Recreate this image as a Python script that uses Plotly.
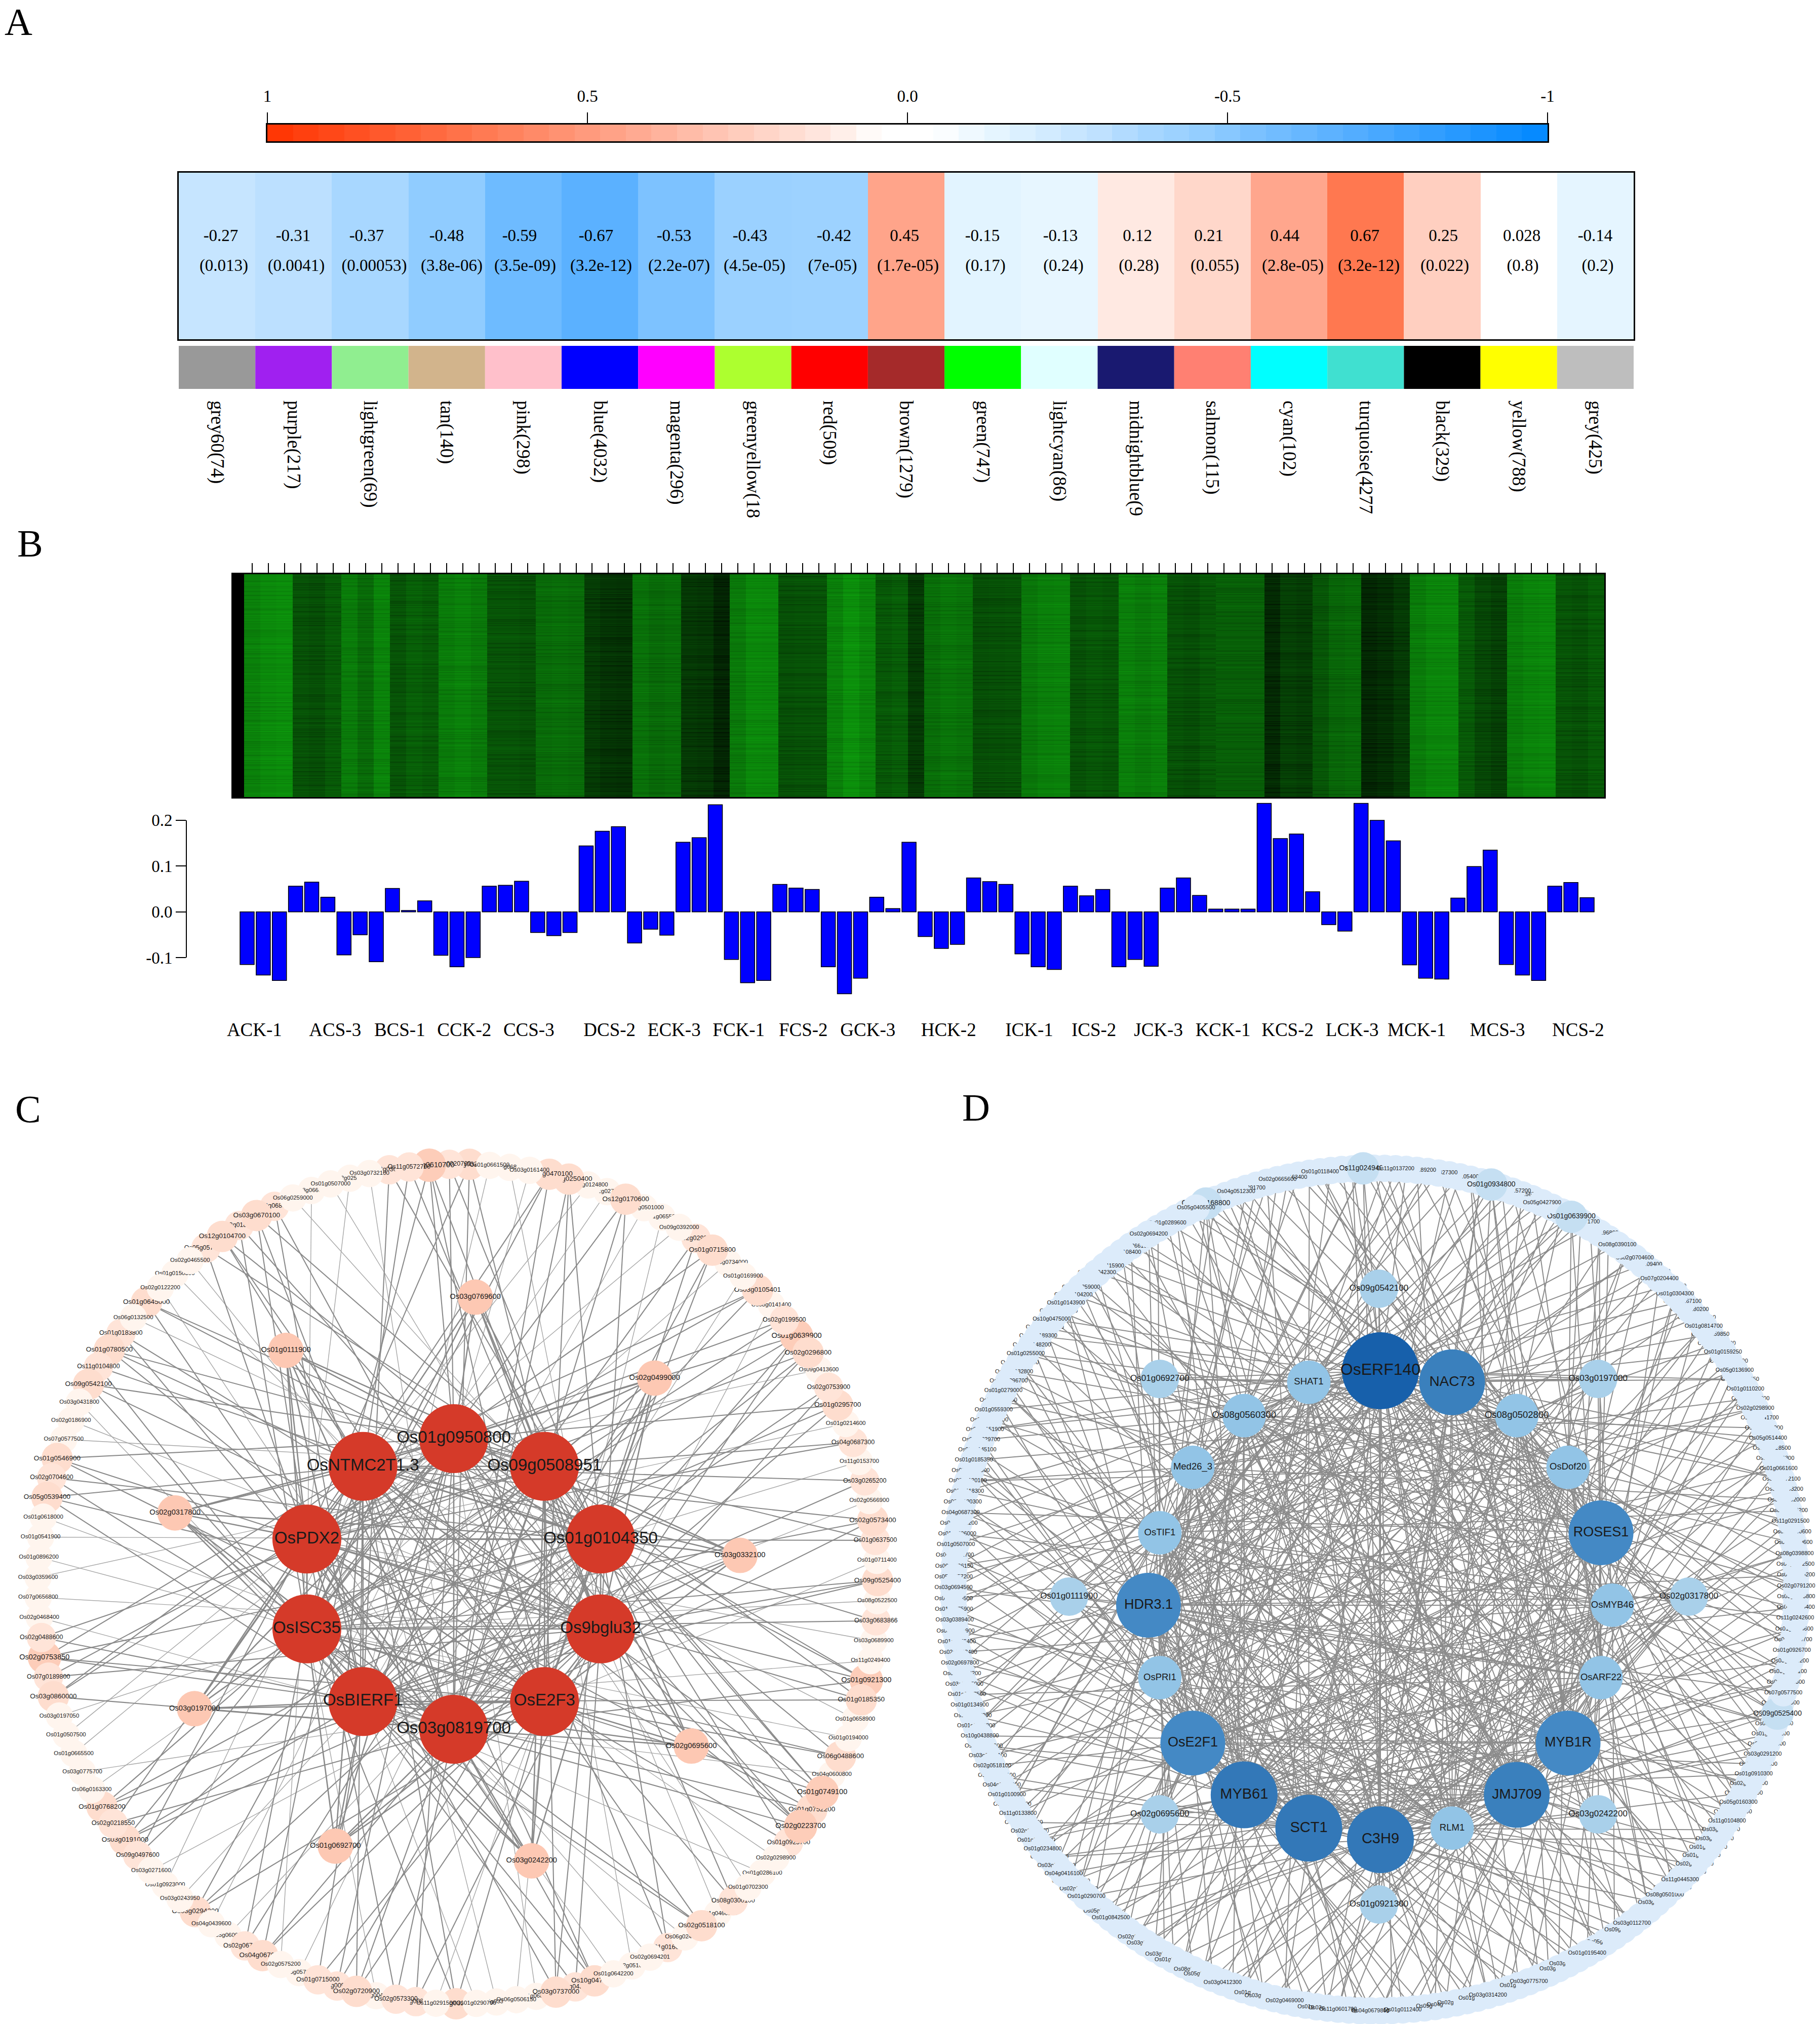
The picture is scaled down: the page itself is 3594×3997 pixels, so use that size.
import math
import plotly.graph_objects as go

W, H = 3594, 3997
SERIF = "Liberation Serif"
SANS = "Liberation Sans"

# ---------- Panel A data ----------
module_names = ["grey60(74)", "purple(217)", "lightgreen(69)", "tan(140)", "pink(298)", "blue(4032)", "magenta(296)",
                "greenyellow(18", "red(509)", "brown(1279)", "green(747)", "lightcyan(86)", "midnightblue(9", "salmon(115)",
                "cyan(102)", "turquoise(4277", "black(329)", "yellow(788)", "grey(425)"]
module_colors = ["#999999", "#A020F0", "#90EE90", "#D2B48C", "#FFC0CB", "#0000FF", "#FF00FF", "#ADFF2F", "#FF0000",
                 "#A52A2A", "#00FF00", "#E0FFFF", "#191970", "#FF8072", "#00FFFF", "#40E0D0", "#000000", "#FFFF00", "#BEBEBE"]
module_r = [-0.27, -0.31, -0.37, -0.48, -0.59, -0.67, -0.53, -0.43, -0.42, 0.45, -0.15, -0.13, 0.12, 0.21, 0.44, 0.67, 0.25, 0.028, -0.14]
module_r_text = ["-0.27", "-0.31", "-0.37", "-0.48", "-0.59", "-0.67", "-0.53", "-0.43", "-0.42", "0.45", "-0.15", "-0.13",
                 "0.12", "0.21", "0.44", "0.67", "0.25", "0.028", "-0.14"]
module_p_text = ["(0.013)", "(0.0041)", "(0.00053)", "(3.8e-06)", "(3.5e-09)", "(3.2e-12)", "(2.2e-07)", "(4.5e-05)", "(7e-05)",
                 "(1.7e-05)", "(0.17)", "(0.24)", "(0.28)", "(0.055)", "(2.8e-05)", "(3.2e-12)", "(0.022)", "(0.8)", "(0.2)"]
r_label_px = [436, 579, 724, 882, 1026, 1177, 1331, 1481, 1647, 1786, 1940, 2094, 2246, 2387, 2537, 2695, 2850, 3005, 3150]
p_label_px = [442, 585, 739, 892, 1037, 1187, 1341, 1490, 1644, 1793, 1946, 2100, 2249, 2399, 2553, 2703, 2853, 3007, 3155]
scale_ticks = [1, 0.5, 0, -0.5, -1]
scale_labels = ["1", "0.5", "0.0", "-0.5", "-1"]
scale_levels = 50
diverging_stops = [(-1, "#0088FF"), (-0.67, "#5BB1FF"), (-0.53, "#7DC2FF"), (-0.48, "#90CCFF"), (-0.37, "#A8D7FF"), (-0.3, "#BFE1FF"),
                   (-0.15, "#E2F4FF"), (-0.04, "#FFFFFF"), (0.04, "#FFFFFF"), (0.12, "#FFE9E2"), (0.25, "#FFCFC0"), (0.45, "#FFA48A"),
                   (0.67, "#FF7850"), (1, "#FF3300")]
diverging = [[(v + 1) / 2, c] for v, c in diverging_stops]

# ---------- Panel B data ----------
# Approximate green level of each sample column.
sample_green = [128, 137, 140, 80, 76, 88, 122, 105, 130, 82, 94, 88, 122, 128, 120, 82, 82, 78, 105, 108, 105,
                58, 50, 48, 112, 104, 108, 55, 52, 35, 120, 135, 134, 78, 80, 82, 127, 143, 131, 86, 92, 56,
                108, 116, 112, 76, 78, 80, 118, 126, 128, 80, 86, 82, 126, 120, 126, 80, 76, 86, 94, 94, 94,
                40, 62, 58, 84, 100, 104, 38, 44, 56, 122, 132, 133, 88, 70, 62, 122, 130, 134, 82, 78, 88]
# Hand-typed stripe pattern standing in for the unreadable gene-level rows.
row_stripes = ("4627351846274530619254738162947350264817395026481739254603718264"
               "5937182640395827164039582716405938271640592837164059283716405938"
               "27164059283746152038495716203849")
eigengene = [-0.115, -0.138, -0.150, 0.056, 0.065, 0.032, -0.094, -0.050, -0.109, 0.051, 0.003, 0.024,
             -0.095, -0.120, -0.100, 0.056, 0.058, 0.067, -0.045, -0.052, -0.045, 0.144, 0.176, 0.186,
             -0.068, -0.038, -0.051, 0.152, 0.162, 0.234, -0.104, -0.155, -0.150, 0.060, 0.052, 0.049,
             -0.120, -0.179, -0.145, 0.032, 0.007, 0.152, -0.054, -0.080, -0.071, 0.074, 0.066, 0.060,
             -0.092, -0.120, -0.126, 0.056, 0.035, 0.049, -0.120, -0.104, -0.119, 0.052, 0.074, 0.036,
             0.006, 0.006, 0.006, 0.237, 0.160, 0.170, 0.044, -0.028, -0.042, 0.237, 0.200, 0.155,
             -0.116, -0.145, -0.147, 0.030, 0.099, 0.135, -0.115, -0.138, -0.150, 0.056, 0.064, 0.031]
sample_label_index = [0, 5, 9, 13, 17, 22, 26, 30, 34, 38, 43, 48, 52, 56, 60, 64, 68, 72, 77, 82]
sample_labels = ["ACK-1", "ACS-3", "BCS-1", "CCK-2", "CCS-3", "DCS-2", "ECK-3", "FCK-1", "FCS-2", "GCK-3", "HCK-2",
                 "ICK-1", "ICS-2", "JCK-3", "KCK-1", "KCS-2", "LCK-3", "MCK-1", "MCS-3", "NCS-2"]

# ---------- Panel C data ----------  ("~" = label mostly hidden by neighbouring nodes)
C_ring = """Os01g0610700 Os11g0572700 Os03g0305200~ Os03g0732100 Os02g0250600~ Os01g0507000 Os03g0660100~ Os06g0259000
Os02g0680500~ Os03g0670100 Os03g0180600~ Os12g0104700 Os05g0570400~ Os02g0465500 Os01g0150300~ Os02g0122200 Os01g0645000~
Os06g0132500 Os01g0183800~ Os01g0780500~ Os11g0104800 Os09g0542100 Os03g0431800 Os02g0186900 Os07g0577500 Os01g0546900
Os02g0704600 Os05g0539400 Os01g0618000 Os01g0541900 Os01g0896200 Os03g0359600 Os07g0656800 Os02g0468400 Os02g0488600
Os02g0753850~ Os07g0189800 Os03g0860000 Os03g0197050 Os01g0507500 Os01g0665500 Os03g0775700 Os06g0163300 Os01g0768200~
Os02g0218550 Os03g0191000~ Os09g0497600~ Os03g0271600 Os01g0923000~ Os03g0243950 Os03g0294200~ Os04g0439600 Os05g0600800~
Os02g0670000~ Os04g0670900~ Os02g0575200 Os03g0570100~ Os01g0715000 Os04g0090400~ Os02g0720900 Os06g0040500~ Os02g0573300
Os03g0080200~ Os11g0291500 Os01g0329000~ Os01g0290700 Os05g0330100~ Os06g0506150 Os01g0680200~ Os03g0737000 Os07g0430900~
Os10g0470900~ Os01g0642200 Os02g0510400~ Os02g0694201 Os01g0160700~ Os06g0240300~ Os02g0518100 Os01g0460800~ Os08g0300100~
Os01g0702300 Os01g0286100~ Os02g0298900 Os01g0925700~ Os02g0223700 Os01g0752200~ Os01g0749100 Os04g0600800~ Os06g0488600
Os01g0194000 Os01g0658900 Os01g0185350 Os01g0921300~ Os11g0249400 Os03g0689900 Os03g0683866 Os08g0522500 Os09g0525400
Os01g0711400 Os01g0637500 Os02g0573400 Os02g0566900 Os03g0265200 Os11g0153700 Os04g0687300 Os01g0214600 Os01g0295700
Os02g0753900 Os09g0413600~ Os02g0296800 Os01g0639900~ Os02g0199500 Os08g0141400~ Os03g0105401~ Os01g0169900 Os03g0734000~
Os01g0715800 Os02g0290000~ Os09g0392000 Os01g0655000~ Os08g0501000~ Os12g0170600 Os02g0270000~ Os03g0124800~ Os03g0250400~
Os02g0470100~ Os03g0161400 Os05g0680000~ Os01g0661500 Os02g0329000~ Os03g0020700~""".split()
# Hub links of each ring node: digits index C_hubs (approximate, edges cannot be traced one by one)
C_ring_links = """1470 39 26 5 8 3 7 2 46 158 37 294 16 4 9 5 280 2 35 194 62 307 6 3 1 804 25 693 4 2 7 1 3 5 16 6249 38 950 2 8 0 4 1
273 59 630 18 3 9 6 240 0 2 17 953 8 1 46 02 913 7 85 30 2 749 6 9 4 0 128 63 597 8 1 5 20 7 746 3 91 0 6 8 42 9305 618 7192 5
704 7 9 861 8025 6 8 97 7 763 4 80 759 6 96 7 18 8 570 46 9 685 5793 07 3 968 5 7 258 64 8 4 6 731 7 9 425 857 0 3 6 581 02""".split()
C_hubs = ["Os01g0950800", "Os09g0508951", "Os01g0104350", "Os9bglu32", "OsE2F3", "Os03g0819700", "OsBIERF1", "OsISC35", "OsPDX2", "OsNTMC2T1.3"]
C_hub_links = ["123456789", "23456789", "3456789", "456789", "56789", "6789", "789", "89", "9"]
C_mid = ["Os03g0332100", "Os02g0499000", "Os03g0769600", "Os01g0111900", "Os02g0317800", "Os03g0197000", "Os01g0692700", "Os03g0242200", "Os02g0695600"]
C_mid_links = ["0123469", "0123458", "012379", "0157689", "0279856", "5678490", "0569734", "1345678", "234561"]

# ---------- Panel D data ----------
D_ring = """Os11g0249400 Os11g0286100~ Os01g0188800~ ~ Os01g0118400 Os01g0172300~ ~ Os07g0163400~ Os02g0665600 Os08g0330100~ ~ Os03g0291700~
Os04g0512300 Os02g0170700~ ~ Os01g0168800 Os05g0405500 Os02g0105900~ ~ Os01g0289600 Os03g0138300~ Os02g0694200 ~ Os01g0266100~
Os03g0108400~ ~ Os02g0415900~ Os01g0042300~ ~ Os05g0259000~ Os03g0104200~ Os01g0143900 Os09g0324100~ Os10g0475000 Os01g0260500~
Os03g0189300~ Os02g0148200~ Os01g0255000 Os01g0320300~ Os05g0132800~ Os03g0296700~ Os01g0279000 Os04g0431100~ Os01g0559300
Os02g0148000~ Os06g0151900~ Os03g0229700~ Os02g0145100~ Os01g0185350 Os02g0147500~ Os08g0120100~ Os01g0118300~ Os03g0180300~
Os04g0687300 Os02g0116200~ Os01g0306000~ Os01g0507000 Os05g0121700~ Os06g0506150 Os05g0257200 Os03g0694500 Os02g0149500~
Os01g0775900~ Os03g0389400 Os02g0551900~ Os01g0776400~ Os02g0113400~ Os02g0697800 Os01g0896200~ Os03g0125000~ Os01g0287500~
Os01g0134900 Os12g0117200~ Os01g0180800~ Os10g0438800 Os01g0259600~ Os03g0140100~ Os02g0518100 Os03g0141100~ Os04g0132900~
Os01g0100900 Os05g0123700~ Os11g0133800 Os03g0197600~ Os02g0164500~ Os01g0156700~ Os01g0234800 Os06g0181600~ Os03g0178400~
Os04g0416100 Os01g0359900~ Os02g0147300~ Os01g0290700 Os03g0353200~ Os05g0154600~ Os01g0842500 Os03g0247900~ ~ Os02g0180700~
Os03g0148500~ ~ Os03g0195300~ Os01g0506200~ ~ Os08g0130900~ Os05g0171200~ ~ Os03g0412300 Os02g0249200~ ~ Os01g0247500~
Os03g0186400~ ~ Os02g0469000 Os05g0329800~ ~ Os01g0841300~ Os03g0138100~ Os11g0601700 Os02g0260700~ Os03g0300500~ Os04g0679800
Os01g0154100~ Os11g0120300~ Os01g0112400 Os02g0448000~ ~ Os09g0130900~ Os04g0172100~ Os02g0468100~ ~ Os01g0161400~ Os03g0314200
Os02g0381900~ ~ Os01g0179300~ Os03g0775700 Os05g0556800~ ~ Os03g0197050~ Os03g0144300~ ~ Os01g0195400 Os02g0233900~ Os05g0678300~ ~
Os09g0118900~ Os03g0112700 Os01g0702700~ ~ Os03g0116400~ Os08g0501000 Os02g0137800~ Os11g0445300 Os01g0110300~ Os02g0234700~
Os01g0541900~ Os01g0749100~ Os03g0163900~ Os03g0185000~ Os11g0104800 Os02g0147100~ Os05g0160300 Os01g0129800~ Os02g0155500~
Os01g0910300 Os03g0127300~ Os03g0291200 Os04g0665500~ Os01g0138200~ Os05g0146700~ Os09g0525400 Os02g0180900~ Os07g0577500
Os06g0463300~ Os03g0117100~ Os03g0113200~ Os01g0926700 Os05g0154700~ Os01g0104600~ Os11g0242600 Os04g0189400~ Os03g0143800~
Os02g0791200 Os01g0205200~ Os04g0172500~ Os08g0398800 Os06g0199600~ Os02g0130600~ Os11g0291500 Os02g0185200~ Os01g0192000~
Os01g0143200~ Os05g0172100~ Os01g0661600 Os03g0146300~ Os05g0128500~ Os05g0514400 Os03g0154900~ Os02g0141700~ Os02g0298900
Os09g0170400~ Os01g0110200 Os04g0133250~ Os05g0136900 Os02g0147200~ Os01g0159250 Os03g0129100~ Os01g0159850~ Os01g0814700
Os03g0165100~ Os03g0180200~ Os05g0167100~ Os01g0304300 Os06g0183200~ Os07g0204400 Os02g0176100~ Os03g0209400~ Os02g0704600
Os01g0172500~ Os08g0390100 Os04g0152700~ Os02g0296800~ ~ Os03g0171700~ Os01g0639900 Os03g0181800~ ~ Os05g0427900 ~ Os03g0156700~
Os02g0157200~ ~ Os01g0934800 Os03g0142900~ ~ Os05g0105400~ ~ Os01g0827300~ ~ Os02g0189200~ ~ Os11g0137200 Os10g0520100~ ~""".split()
# Links of ring nodes to inner nodes: letters index D_inner (approximate)
D_ring_links = """ke pq f bn st ag ck hr dm jo ei lt fq bg sk am pe rd hn oc jt il qb kf ms ge ar dn ph to ci jl bq fs gk ea mr hd np
ct io jq bl fk sa eg mh rn dp otk ci jf ql bs gn ka em rp hc do ti jb qg lf sn ke am rh pd oc tj ib lq fg sk nr ea mh dp
co tg ji lb qf ks an em rp dh oc jt il bq fk sn ga mr hp de to ci jb lq gf ks en am rd hp co tj il qb fg sk na mr eh dp
oc ti jl bq kf gs an mr pe dh to jc il qg fb ks ne ma rh pd co jt li qb gf sk an me hr dp tc oj il fb qg ks ne am rd ph
ot cj il bf gq sk na em hr pd co tj il bq fk ns ga rm ep hd to cj li qf gb ks ne am hr dp ct oj li bq fg sk an er md
hp to jc il qb gf ks an em rd ph oc jt li fq bs kg na me hr""".split()
D_ring_special = {"Os11g0249400": "afhkp", "Os01g0168800": "bhlnr", "Os01g0934800": "dfjqs", "Os01g0639900": "cgkmt", "Os09g0525400": "aehnr"}
D_inner = ["OsMYB46", "ROSES1", "OsDof20", "Os08g0502800", "NAC73", "OsERF140", "SHAT1", "Os08g0560300", "Med26_3", "OsTIF1",
           "HDR3.1", "OsPRI1", "OsE2F1", "MYB61", "SCT1", "C3H9", "RLM1", "JMJ709", "MYB1R", "OsARF22"]
D_inner_degree = [14, 30, 14, 14, 32, 40, 14, 14, 14, 14, 30, 14, 30, 34, 34, 34, 14, 32, 30, 14]
D_inner_links = ["cfhjkmnopr", "dfgikmnpqs", "efhlnoqt", "fgijloprs", "fgiklmpqs", "ghijklmnopqrst", "ikmoqrs", "jkmnpr", "klnqst",
                 "lmnoprs", "mnoqrst", "nopq", "nopqrs", "oqrt", "pqrst", "rst", "rs", "st", "t"]
D_mid = ["Os02g0317800", "Os03g0197000", "Os09g0542100", "Os01g0692700", "Os01g0111900", "Os02g0695600", "Os01g0921300", "Os03g0242200"]
D_mid_links = ["bkmnprst", "efgkmnqt", "fehgpkbm", "gfhjbrne", "ikmnjqtd", "mnorfdhb", "pofnrgeq", "rsqbfhkj"]

# ---------- Layout constants ----------
letters = [("A", 36, 43), ("B", 59, 1073), ("C", 55, 2190), ("D", 1927, 2187)]
node_fill = {1: (27, "#FFF5EE", 11.5), 2: (29, "#FFE4D8", 12.5), 3: (31, "#FEDDCE", 13.5), 4: (33, "#FDCDB9", 14.5)}
inner_fill = {14: (43, "#92C4E6", 18.5), 30: (64, "#4489C5", 27), 32: (65, "#3A80BD", 28), 34: (66, "#3378B8", 29), 40: (76, "#1760AB", 32)}


def xdom(a, b):
    return [a / W, b / W]


def ydom(top, bottom):
    return [1 - bottom / H, 1 - top / H]


fig = go.Figure()
layout = dict(template="none", width=W, height=H, autosize=False, margin=dict(l=0, r=0, t=0, b=0, pad=0, autoexpand=False),
              paper_bgcolor="white", plot_bgcolor="white", showlegend=False, hovermode=False,
              font=dict(family=SERIF, color="black"))

# ---------- A: colour scale ----------
step = 2 / scale_levels
scale_x = [1 - step * (i + 0.5) for i in range(scale_levels)]
fig.add_trace(go.Heatmap(x=scale_x, y=[0], z=[scale_x], zmin=-1, zmax=1, colorscale=diverging, showscale=False,
                         xaxis="x", yaxis="y", hoverinfo="skip"))
layout["xaxis"] = dict(domain=xdom(528, 3056), range=[1, -1], side="top", tickmode="array", tickvals=scale_ticks, ticktext=scale_labels,
                       ticks="outside", ticklen=21, tickwidth=2, tickcolor="black", showline=True, mirror=True, linewidth=3,
                       linecolor="black", tickfont=dict(family=SERIF, size=33), showgrid=False, zeroline=False, anchor="y",
                       ticklabelstandoff=8, automargin=False)
layout["yaxis"] = dict(domain=ydom(246, 279), visible=True, showticklabels=False, ticks="", showline=True, mirror=True, linewidth=3,
                       linecolor="black", showgrid=False, zeroline=False, anchor="x", range=[-0.5, 0.5], automargin=False)

# ---------- A: correlation strip ----------
fig.add_trace(go.Heatmap(x=list(range(19)), y=[0], z=[module_r], zmin=-1, zmax=1, colorscale=diverging, showscale=False,
                         xaxis="x2", yaxis="y2", hoverinfo="skip"))
colw = (3226 - 353) / 19
fig.add_trace(go.Scatter(x=[(p - 353) / colw - 0.5 for p in r_label_px], y=[0.115] * 19, text=module_r_text, mode="text",
                         textfont=dict(family=SERIF, size=33), xaxis="x2", yaxis="y2", hoverinfo="skip"))
fig.add_trace(go.Scatter(x=[(p - 353) / colw - 0.5 for p in p_label_px], y=[-0.065] * 19, text=module_p_text, mode="text",
                         textfont=dict(family=SERIF, size=33), xaxis="x2", yaxis="y2", hoverinfo="skip"))
layout["xaxis2"] = dict(domain=xdom(353, 3226), range=[-0.5, 18.5], showticklabels=False, ticks="", showline=True, mirror=True,
                        linewidth=2.5, linecolor="black", showgrid=False, zeroline=False, anchor="y2", automargin=False)
layout["yaxis2"] = dict(domain=ydom(341, 670), range=[-0.5, 0.5], showticklabels=False, ticks="", showline=True, mirror=True,
                        linewidth=2.5, linecolor="black", showgrid=False, zeroline=False, anchor="x2", automargin=False)

# ---------- A: module swatches ----------
fig.add_trace(go.Bar(x=list(range(19)), y=[1] * 19, width=1, marker=dict(color=module_colors, line=dict(width=0)),
                     xaxis="x3", yaxis="y3", hoverinfo="skip"))
layout["xaxis3"] = dict(domain=xdom(353, 3226), range=[-0.5, 18.5], tickmode="array", tickvals=list(range(19)), ticktext=module_names,
                        tickangle=90, ticks="", ticklabelstandoff=22, tickfont=dict(family=SERIF, size=37), showline=False,
                        showgrid=False, zeroline=False, anchor="y3", automargin=False)
layout["yaxis3"] = dict(domain=ydom(683, 768), range=[0, 1], visible=False, anchor="x3", automargin=False)

# ---------- B: expression heatmap ----------
side = 22 / ((3168 - 482) / 84)
edges = [-0.5 - side] + [i - 0.5 for i in range(85)]
rows = []
n_rows = 2 * len(row_stripes)
for r in range(n_rows):
    row = [0]
    for c, g in enumerate(sample_green):
        d = int(row_stripes[(r * 7 + (c // 3) * 11) % len(row_stripes)])
        row.append(g + (d - 4.5) * 2.4)
    rows.append(row)
fig.add_trace(go.Heatmap(x=edges, y=list(range(n_rows)), z=rows, zmin=0, zmax=255,
                         colorscale=[[0, "#000000"], [1, "#14FF14"]], showscale=False, xaxis="x4", yaxis="y4", hoverinfo="skip"))
layout["xaxis4"] = dict(domain=xdom(460, 3168), range=[-0.5 - side, 83.5], side="top", tickmode="array", tickvals=list(range(84)),
                        ticktext=[""] * 84, ticks="outside", ticklen=19, tickwidth=1.5, tickcolor="black", showline=True, mirror=True,
                        linewidth=2.5, linecolor="black", showgrid=False, zeroline=False, anchor="y4", automargin=False)
layout["yaxis4"] = dict(domain=ydom(1134, 1574), range=[-0.5, n_rows - 0.5], showticklabels=False, ticks="", showline=True, mirror=True,
                        linewidth=2.5, linecolor="black", showgrid=False, zeroline=False, anchor="x4", automargin=False)

# ---------- B: eigengene bars ----------
pitch = (3134 - 488) / 83
unit = 904  # pixels per 1.0 of eigengene value
y_top, y_zero = 1579, 1800.7
y_bottom = 1975
fig.add_trace(go.Bar(x=list(range(84)), y=eigengene, width=28 / pitch,
                     marker=dict(color="#0000FF", line=dict(color="black", width=1.5)), xaxis="x5", yaxis="y5", hoverinfo="skip"))
layout["xaxis5"] = dict(domain=xdom(368, 3200), range=[(368 - 488) / pitch, (3200 - 488) / pitch], tickmode="array",
                        tickvals=[i + 0.45 for i in sample_label_index], ticktext=sample_labels, ticks="", showline=False, showgrid=False,
                        zeroline=False, anchor="free", position=1 - 2008 / H, tickfont=dict(family=SERIF, size=37), automargin=False)
layout["yaxis5"] = dict(domain=ydom(y_top, y_bottom), range=[(y_zero - y_bottom) / unit, (y_zero - y_top) / unit], tickmode="array",
                        tickvals=[-0.1, 0, 0.1, 0.2], ticktext=["-0.1", "0.0", "0.1", "0.2"], ticks="outside", ticklen=20, tickwidth=2,
                        tickcolor="black", showline=False, showgrid=False, zeroline=False, anchor="x5",
                        tickfont=dict(family=SERIF, size=33), automargin=False)
layout["shapes"] = [dict(type="line", xref="x5 domain", yref="y5", x0=0, x1=0, y0=-0.1, y1=0.2, line=dict(color="black", width=2))]


# ---------- Networks ----------
def polar(cx, cy, rx, ry, deg):
    a = math.radians(deg)
    return cx + rx * math.cos(a), cy + ry * math.sin(a)


def edge_trace(segs, color, width, xa, ya):
    xs, ys = [], []
    for (x0, y0), (x1, y1) in segs:
        xs += [x0, x1, None]
        ys += [y0, y1, None]
    return go.Scatter(x=xs, y=ys, mode="lines", line=dict(color=color, width=width), xaxis=xa, yaxis=ya, hoverinfo="skip")


def node_trace(x, y, r, color, label, size, xa, ya):
    return go.Scatter(x=[x], y=[y], text=[label], mode="markers+text", textposition="middle center",
                      marker=dict(size=2 * r, color=color, line=dict(width=0)), textfont=dict(family=SANS, size=size, color="#1a1a1a"),
                      xaxis=xa, yaxis=ya, hoverinfo="skip")


def clean(name):
    return name.rstrip("~")


# ----- C -----
N = len(C_ring)
c_ring_pos = [polar(8, 0, 829, 829, 93.9 + i * 360 / N) for i in range(N)]
c_hub_pos = [polar(0, 0, 305, 287, 90 - 36 * i) for i in range(10)]
c_mid_pos = [polar(0, 0, 568, 568, 5.7 + 40 * i) for i in range(9)]
thin, thick, hubseg = [], [], []
for i, tok in enumerate(C_ring_links[:N]):
    (thin if len(tok) == 1 else thick).extend((c_ring_pos[i], c_hub_pos[int(t)]) for t in tok)
for i, tok in enumerate(C_mid_links):
    hubseg.extend((c_mid_pos[i], c_hub_pos[int(t)]) for t in tok)
for i, tok in enumerate(C_hub_links):
    hubseg.extend((c_hub_pos[i], c_hub_pos[int(t)]) for t in tok)
fig.add_trace(edge_trace(thin, "#a6a6a6", 1.4, "x6", "y6"))
fig.add_trace(edge_trace(thick, "#8a8a8a", 2.1, "x6", "y6"))
fig.add_trace(edge_trace(hubseg, "#8a8a8a", 2.6, "x6", "y6"))
for i in sorted(range(N), key=lambda k: 0 if C_ring[k].endswith("~") else 1):
    deg = len(C_ring_links[i]) if i < len(C_ring_links) else 1
    r, col, fs = node_fill[deg]
    fig.add_trace(node_trace(*c_ring_pos[i], r, col, clean(C_ring[i]), fs, "x6", "y6"))
for i, name in enumerate(C_mid):
    fig.add_trace(node_trace(*c_mid_pos[i], 35, "#FDC8B3", name, 14.7, "x6", "y6"))
for i, name in enumerate(C_hubs):
    fig.add_trace(node_trace(*c_hub_pos[i], 68, "#D53A29", name, 33, "x6", "y6"))
layout["xaxis6"] = dict(domain=xdom(0, 1800), range=[-896, 904], visible=False, anchor="y6", automargin=False)
layout["yaxis6"] = dict(domain=ydom(2150, 3997), range=[3128 - 3997, 3128 - 2150], visible=False, anchor="x6", automargin=False)

# ----- D -----
M = len(D_ring)
d_ring_pos = [polar(-11, 26, 832, 832, 91.6 + i * 360 / M) for i in range(M)]
d_inner_pos = [polar(0, -5, 458, 463, 18 * i) for i in range(20)]
d_mid_pos = [polar(-3, 12, 612, 608, 45 * i) for i in range(8)]
segs = []
idx = lambda ch: ord(ch) - ord("a")
for i, name in enumerate(D_ring):
    tok = D_ring_special.get(clean(name), D_ring_links[i % len(D_ring_links)])
    segs.extend((d_ring_pos[i], d_inner_pos[idx(t)]) for t in tok)
for i, tok in enumerate(D_mid_links):
    segs.extend((d_mid_pos[i], d_inner_pos[idx(t)]) for t in tok)
for i, tok in enumerate(D_inner_links):
    segs.extend((d_inner_pos[i], d_inner_pos[idx(t)]) for t in tok)
fig.add_trace(edge_trace(segs, "#8c8c8c", 2, "x7", "y7"))
for i in sorted(range(M), key=lambda k: 0 if D_ring[k].endswith("~") else 1):
    name = clean(D_ring[i])
    if name in D_ring_special:
        fig.add_trace(node_trace(*d_ring_pos[i], 32, "#C5DFF2", name, 14, "x7", "y7"))
    else:
        fig.add_trace(node_trace(*d_ring_pos[i], 27, "#DCEBFA", name, 11, "x7", "y7"))
for i, name in enumerate(D_mid):
    fig.add_trace(node_trace(*d_mid_pos[i], 38, "#A9D0EA", name, 17, "x7", "y7"))
for i, name in enumerate(D_inner):
    r, col, fs = inner_fill[D_inner_degree[i]]
    fig.add_trace(node_trace(*d_inner_pos[i], r, col, name, fs, "x7", "y7"))
layout["xaxis7"] = dict(domain=xdom(1800, 3594), range=[1800 - 2726, 3594 - 2726], visible=False, anchor="y7", automargin=False)
layout["yaxis7"] = dict(domain=ydom(2150, 3997), range=[3165 - 3997, 3165 - 2150], visible=False, anchor="x7", automargin=False)

# ---------- Panel letters ----------
layout["annotations"] = [dict(text=t, x=x / W, y=1 - y / H, xref="paper", yref="paper", showarrow=False,
                              xanchor="center", yanchor="middle", font=dict(family=SERIF, size=76, color="black"))
                         for t, x, y in letters]
fig.update_layout(**layout)
fig.write_html("out.html", post_script="document.body.style.margin='0';", config={"displayModeBar": False})
